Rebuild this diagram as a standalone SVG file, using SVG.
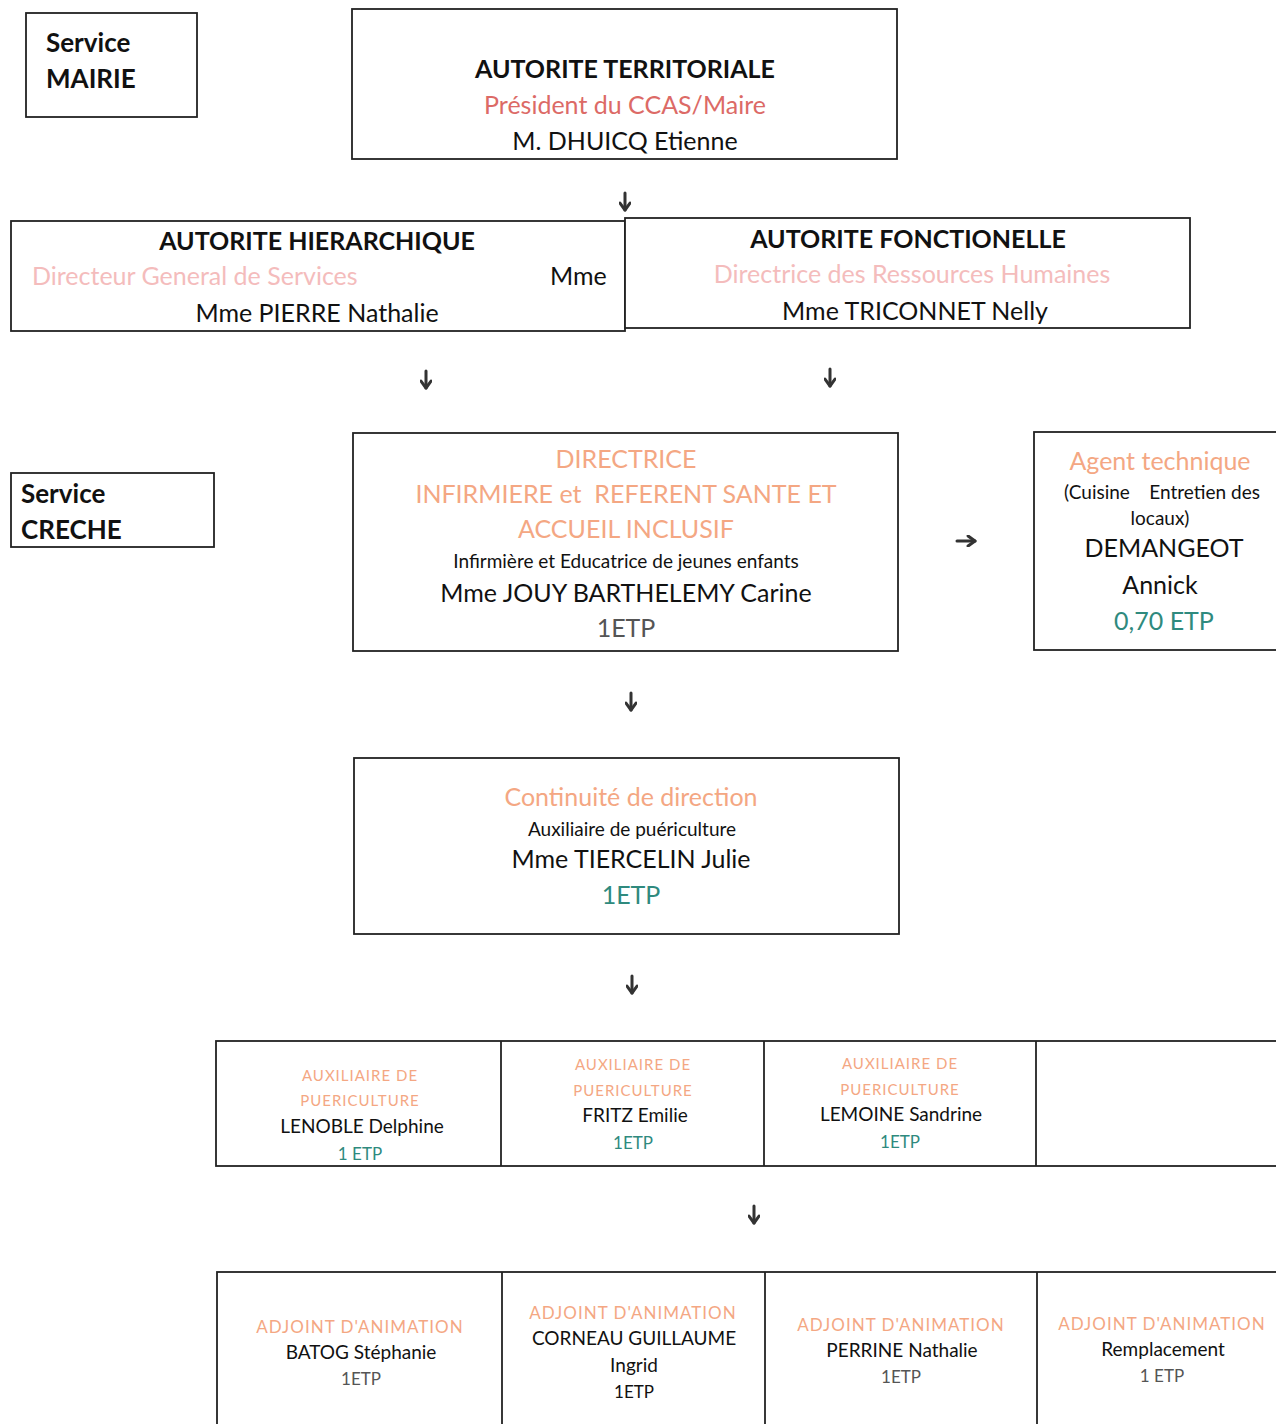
<svg xmlns="http://www.w3.org/2000/svg" width="1276" height="1424" viewBox="0 0 1276 1424">
<defs>
<marker id="ah" viewBox="0 0 10 10" refX="7" refY="5" markerWidth="4.2" markerHeight="4.2" orient="auto" markerUnits="strokeWidth">
<path d="M1.5,1 L7,5 L1.5,9" fill="none" stroke="#333" stroke-width="2.4" stroke-linecap="round" stroke-linejoin="round"/>
</marker>
<style>
.box{fill:#fff;stroke:#222;stroke-width:1.8}
text{font-family:Lato,"Liberation Sans",sans-serif;text-anchor:middle;fill:#111}
.b{font-weight:bold}
.l{text-anchor:start}
.t25{font-size:25px}
.t26{font-size:26px}
.t19{font-size:19px}
.t17{font-size:17px}
.t15{font-size:15px;letter-spacing:1px}
.org{fill:#f4a783}
.pink{fill:#f4bcbc}
.red{fill:#dc6a66}
.teal{fill:#2f8a7e}
.gray{fill:#555}
.conn line{stroke:#333;stroke-width:3;stroke-linecap:round;marker-end:url(#ah)}
</style>
</defs>
<rect width="1276" height="1424" fill="#fff"/>

<g id="service-mairie">
<rect class="box" x="26" y="13" width="171" height="104"/>
<text class="b t26 l" x="46" y="52">Service</text>
<text class="b t26 l" x="46" y="88">MAIRIE</text>
</g>

<g id="autorite-territoriale">
<rect class="box" x="352" y="9" width="545" height="150"/>
<text class="b t25" x="625" y="78">AUTORITE TERRITORIALE</text>
<text class="t25 red" x="625" y="114">Président du CCAS/Maire</text>
<text class="t25" x="625" y="150">M. DHUICQ Etienne</text>
</g>

<g id="autorite-hierarchique">
<rect class="box" x="11" y="221" width="614" height="110"/>
<text class="b t25" x="317" y="250">AUTORITE HIERARCHIQUE</text>
<text class="t25 pink l" x="32" y="285">Directeur General de Services</text>
<text class="t25 l" x="550" y="285">Mme</text>
<text class="t25" x="317" y="322">Mme PIERRE Nathalie</text>
</g>

<g id="autorite-fonctionelle">
<rect class="box" x="625" y="218" width="565" height="110"/>
<text class="b t25" x="908" y="248">AUTORITE FONCTIONELLE</text>
<text class="t25 pink" x="912" y="283">Directrice des Ressources Humaines</text>
<text class="t25" x="915" y="320">Mme TRICONNET Nelly</text>
</g>

<g id="service-creche">
<rect class="box" x="11" y="473" width="203" height="74"/>
<text class="b t26 l" x="21" y="503">Service</text>
<text class="b t26 l" x="21" y="539">CRECHE</text>
</g>

<g id="directrice">
<rect class="box" x="353" y="433" width="545" height="218"/>
<text class="t25 org" x="626" y="468">DIRECTRICE</text>
<text class="t25 org" x="626" y="503" xml:space="preserve">INFIRMIERE et  REFERENT SANTE ET</text>
<text class="t25 org" x="626" y="538">ACCUEIL INCLUSIF</text>
<text class="t19" x="626" y="568">Infirmière et Educatrice de jeunes enfants</text>
<text class="t25" x="626" y="602">Mme JOUY BARTHELEMY Carine</text>
<text class="t25 gray" x="626" y="637">1ETP</text>
</g>

<g id="agent-technique">
<rect class="box" x="1034" y="432" width="244" height="218"/>
<text class="t25 org" x="1160" y="470">Agent technique</text>
<text class="t19" x="1162" y="499" xml:space="preserve">(Cuisine    Entretien des</text>
<text class="t19" x="1160" y="525">locaux)</text>
<text class="t25" x="1164" y="557">DEMANGEOT</text>
<text class="t25" x="1160" y="594">Annick</text>
<text class="t25 teal" x="1164" y="630">0,70 ETP</text>
</g>

<g id="continuite">
<rect class="box" x="354" y="758" width="545" height="176"/>
<text class="t25 org" x="631" y="806">Continuité de direction</text>
<text class="t19" x="632" y="836">Auxiliaire de puériculture</text>
<text class="t25" x="631" y="868">Mme TIERCELIN Julie</text>
<text class="t25 teal" x="631" y="904">1ETP</text>
</g>

<g id="auxiliaires">
<rect class="box" x="216" y="1041" width="1062" height="125"/>
<line x1="501" y1="1041" x2="501" y2="1166" stroke="#222" stroke-width="1.8"/>
<line x1="764" y1="1041" x2="764" y2="1166" stroke="#222" stroke-width="1.8"/>
<line x1="1036" y1="1041" x2="1036" y2="1166" stroke="#222" stroke-width="1.8"/>
</g>
<g id="lenoble">
<text class="t15 org" x="360" y="1081">AUXILIAIRE DE</text>
<text class="t15 org" x="360" y="1106">PUERICULTURE</text>
<text class="t19" x="362" y="1133">LENOBLE Delphine</text>
<text class="t17 teal" x="360" y="1160">1 ETP</text>
</g>
<g id="fritz">
<text class="t15 org" x="633" y="1070">AUXILIAIRE DE</text>
<text class="t15 org" x="633" y="1096">PUERICULTURE</text>
<text class="t19" x="635" y="1122">FRITZ Emilie</text>
<text class="t17 teal" x="633" y="1149">1ETP</text>
</g>
<g id="lemoine">
<text class="t15 org" x="900" y="1069">AUXILIAIRE DE</text>
<text class="t15 org" x="900" y="1095">PUERICULTURE</text>
<text class="t19" x="901" y="1121">LEMOINE Sandrine</text>
<text class="t17 teal" x="900" y="1148">1ETP</text>
</g>

<g id="adjoints">
<rect class="box" x="217" y="1272" width="1061" height="160"/>
<line x1="502" y1="1272" x2="502" y2="1424" stroke="#222" stroke-width="1.8"/>
<line x1="765" y1="1272" x2="765" y2="1424" stroke="#222" stroke-width="1.8"/>
<line x1="1037" y1="1272" x2="1037" y2="1424" stroke="#222" stroke-width="1.8"/>
</g>
<g id="batog">
<text class="t17 org" x="360" y="1333" style="letter-spacing:1px">ADJOINT D'ANIMATION</text>
<text class="t19" x="361" y="1359">BATOG Stéphanie</text>
<text class="t17 gray" x="361" y="1385">1ETP</text>
</g>
<g id="corneau">
<text class="t17 org" x="633" y="1319" style="letter-spacing:1px">ADJOINT D'ANIMATION</text>
<text class="t19" x="634" y="1345">CORNEAU GUILLAUME</text>
<text class="t19" x="634" y="1372">Ingrid</text>
<text class="t17" x="634" y="1398">1ETP</text>
</g>
<g id="perrine">
<text class="t17 org" x="901" y="1331" style="letter-spacing:1px">ADJOINT D'ANIMATION</text>
<text class="t19" x="902" y="1357">PERRINE Nathalie</text>
<text class="t17 gray" x="901" y="1383">1ETP</text>
</g>
<g id="remplacement">
<text class="t17 org" x="1162" y="1330" style="letter-spacing:1px">ADJOINT D'ANIMATION</text>
<text class="t19" x="1163" y="1356">Remplacement</text>
<text class="t17 gray" x="1162" y="1382">1 ETP</text>
</g>

<g class="conn" id="connectors">
<line x1="625" y1="193" x2="625" y2="210"/>
<line x1="426" y1="371" x2="426" y2="388"/>
<line x1="830" y1="369" x2="830" y2="386"/>
<line x1="957" y1="541" x2="975" y2="541"/>
<line x1="631" y1="693" x2="631" y2="710"/>
<line x1="632" y1="976" x2="632" y2="993"/>
<line x1="754" y1="1206" x2="754" y2="1223"/>
</g>
</svg>
